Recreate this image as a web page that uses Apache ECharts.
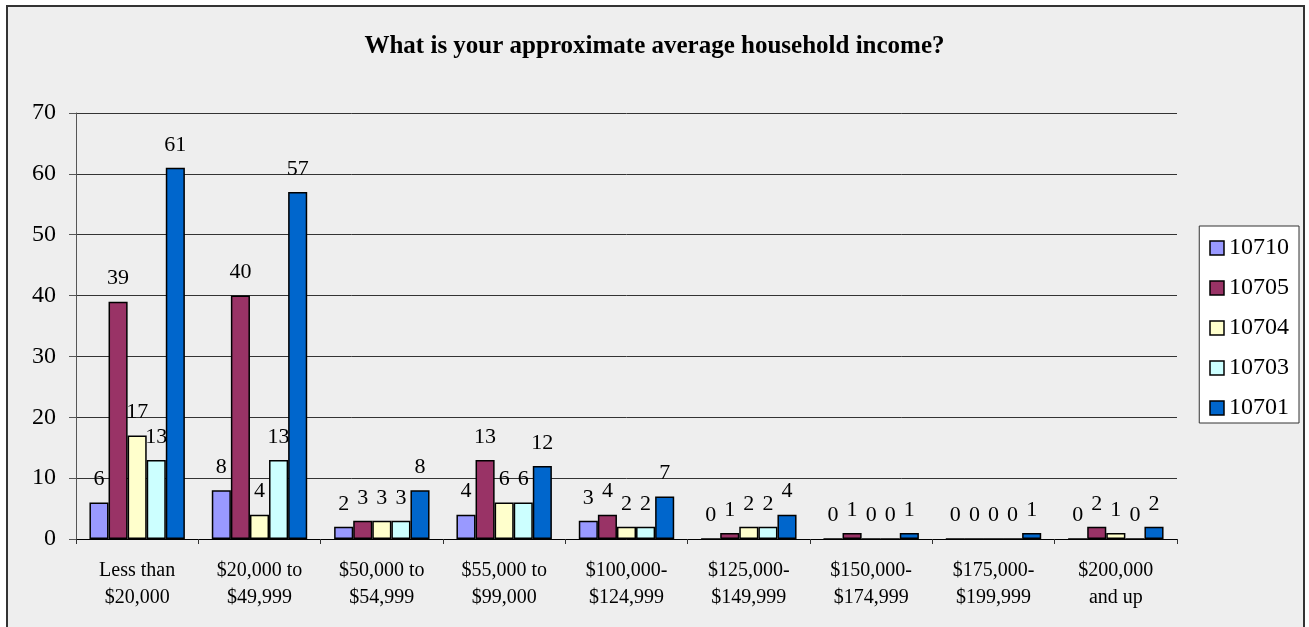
<!DOCTYPE html>
<html><head><meta charset="utf-8">
<script src="https://cdn.jsdelivr.net/npm/echarts@6/dist/echarts.min.js"></script>
<style>html,body{margin:0;padding:0;background:#fff;}#c{width:1309px;height:627px;}</style>
</head><body><div id="c"></div>
<script>
const categories = ['Less than\n$20,000','$20,000 to\n$49,999','$50,000 to\n$54,999','$55,000 to\n$99,000','$100,000-\n$124,999','$125,000-\n$149,999','$150,000-\n$174,999','$175,000-\n$199,999','$200,000\nand up'];
const seriesNames = ['10710','10705','10704','10703','10701'];
const s10710 = [6,8,2,4,3,0,0,0,0];
const s10705 = [39,40,3,13,4,1,1,0,2];
const s10704 = [17,4,3,6,2,2,0,0,1];
const s10703 = [13,13,3,6,2,2,0,0,0];
const s10701 = [61,57,8,12,7,4,1,1,2];
const colors = ['#9999FF','#993366','#FFFFCC','#CCFFFF','#0066CC'];
const values = [s10710,s10705,s10704,s10703,s10701];
const FONT = '"Liberation Serif", serif';
const chart = echarts.init(document.getElementById('c'));
chart.setOption({
  backgroundColor: '#ffffff',
  animation: false,
  title: { text: 'What is your approximate average household income?', left: 'center', top: 29,
    textStyle: { fontFamily: FONT, fontWeight: 'bold', fontSize: 25, color: '#000' } },
  graphic: [{ type: 'rect', z: -100, silent: true, shape: { x: 7, y: 6, width: 1297, height: 700 },
    style: { fill: '#eeeeee', stroke: '#333', lineWidth: 2 } }],
  legend: {
    orient: 'vertical', right: 10, top: 226, itemWidth: 14, itemHeight: 14, itemGap: 16,
    padding: [10, 10, 3, 10], borderColor: '#333', borderWidth: 1, backgroundColor: '#fff',
    textStyle: { fontFamily: FONT, fontSize: 24, color: '#000', lineHeight: 24 },
    data: seriesNames.map(n => ({ name: n, icon: 'rect', itemStyle: { borderColor: '#000', borderWidth: 1.5 } }))
  },
  grid: { left: 76, right: 132, top: 113, bottom: 88 },
  xAxis: {
    type: 'category', data: categories,
    axisLine: { lineStyle: { color: '#000', width: 1 } },
    axisTick: { show: true, length: 5, lineStyle: { color: '#333' } },
    axisLabel: { fontFamily: FONT, fontSize: 20, color: '#000', margin: 18, lineHeight: 27, interval: 0 }
  },
  yAxis: {
    type: 'value', min: 0, max: 70, interval: 10,
    axisLine: { show: true, lineStyle: { color: '#555' } },
    axisTick: { show: true, length: 7, lineStyle: { color: '#555' } },
    axisLabel: { fontFamily: FONT, fontSize: 24, color: '#000', margin: 20 },
    splitLine: { lineStyle: { color: '#333', width: 1 } }
  },
  series: seriesNames.map((n, i) => ({
    name: n, type: 'bar', data: values[i], barGap: '0%', barCategoryGap: '22%',
    itemStyle: { color: colors[i], borderColor: '#000', borderWidth: 1.5 },
    label: { show: true, position: 'top', distance: 12, fontFamily: FONT, fontSize: 22, color: '#000' }
  }))
});
</script></body></html>
